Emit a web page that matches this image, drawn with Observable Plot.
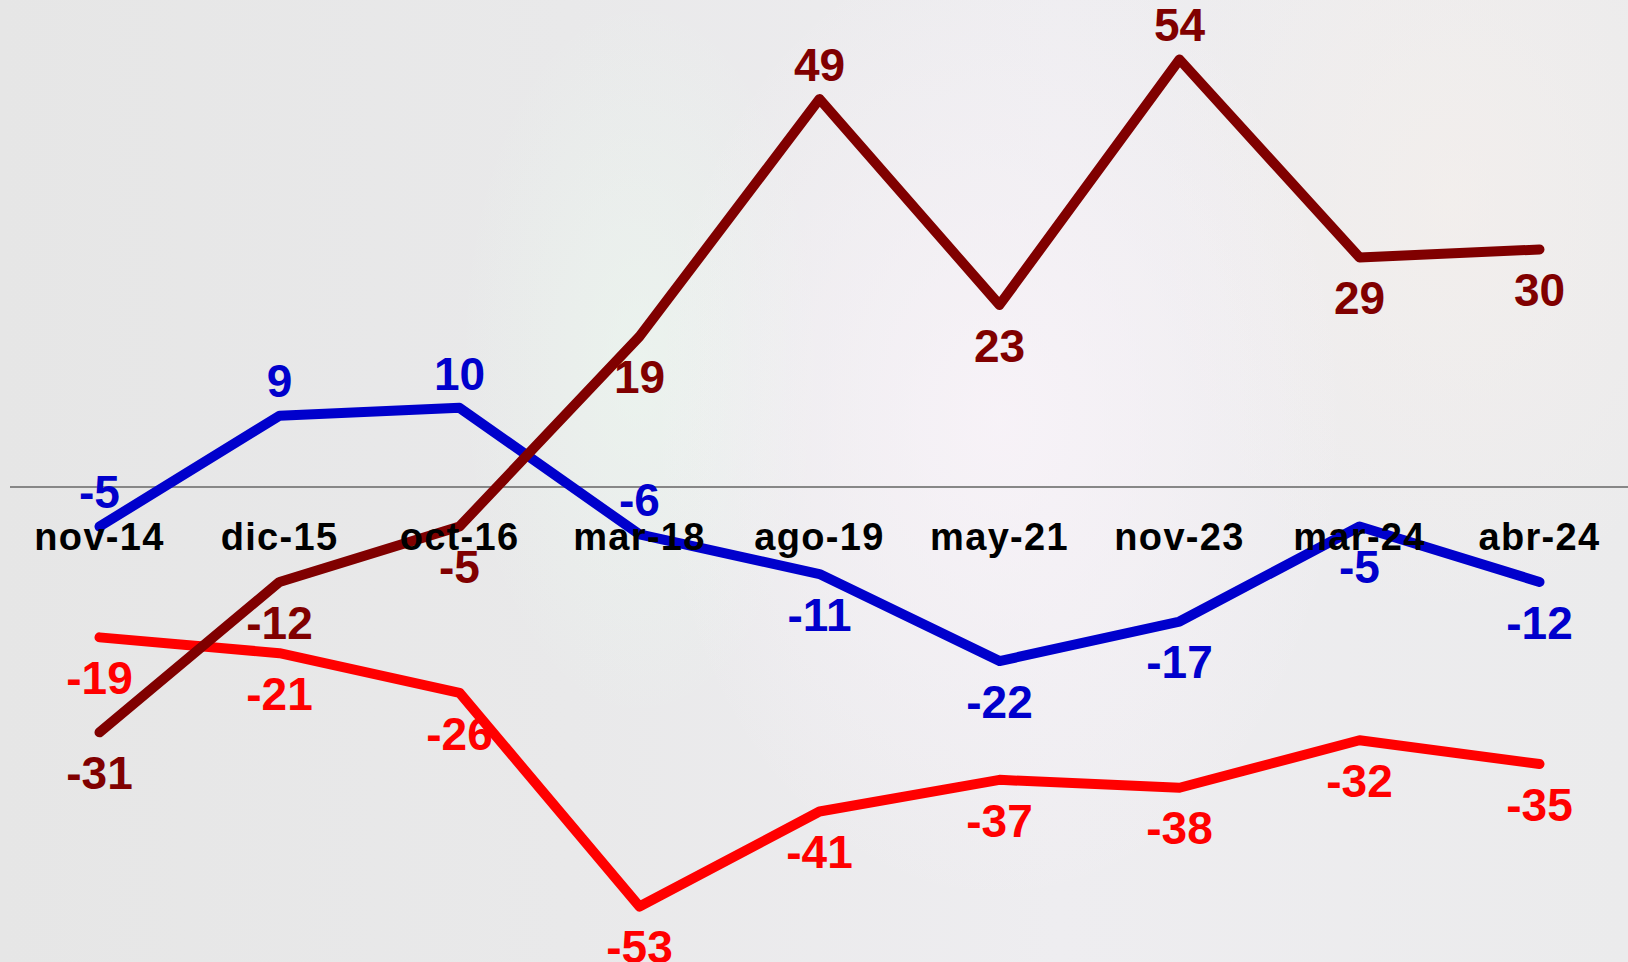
<!DOCTYPE html>
<html>
<head>
<meta charset="utf-8">
<script src="https://cdn.jsdelivr.net/npm/d3@7"></script>
<script src="https://cdn.jsdelivr.net/npm/@observablehq/plot@0.6"></script>
<style>
  html, body { margin: 0; padding: 0; }
  body {
    width: 1628px; height: 962px; overflow: hidden;
    background:
      radial-gradient(ellipse 500px 700px at 1000px 420px, rgba(250,244,250,0.75), rgba(250,244,250,0) 70%),
      radial-gradient(ellipse 260px 520px at 640px 360px, rgba(236,250,240,0.55), rgba(236,250,240,0) 70%),
      radial-gradient(ellipse 420px 600px at 1450px 200px, rgba(246,240,236,0.6), rgba(246,240,236,0) 70%),
      linear-gradient(90deg, #e6e6e6 0%, #e9e9ea 35%, #eeedf0 65%, #ebebec 100%);
    font-family: "Liberation Sans", Arial, sans-serif;
  }
  #chart svg { display: block; background: transparent; }
</style>
</head>
<body>
<div id="chart"></div>
<script>
const dates = ["nov-14", "dic-15", "oct-16", "mar-18", "ago-19", "may-21", "nov-23", "mar-24", "abr-24"];
const blueValues = [-5, 9, 10, -6, -11, -22, -17, -5, -12];
const darkRedValues = [-31, -12, -5, 19, 49, 23, 54, 29, 30];
const redValues = [-19, -21, -26, -53, -41, -37, -38, -32, -35];

// label placement (above the point or below it)
const blueAbove = [true, true, true, true, false, false, false, false, false];
const darkRedAbove = [false, false, false, false, true, false, true, false, false];
const redAbove = [false, false, false, false, false, false, false, false, false];

const seriesDefs = [
  {name: "red", color: "#ff0000", values: redValues, above: redAbove},
  {name: "blue", color: "#0000cc", values: blueValues, above: blueAbove},
  {name: "darkred", color: "#800000", values: darkRedValues, above: darkRedAbove}
];

const rows = seriesDefs.flatMap(s => dates.map((d, i) => ({
  date: d, value: s.values[i], series: s.name, color: s.color, above: s.above[i]
})));

const lineMarks = seriesDefs.map(s => Plot.line(rows.filter(r => r.series === s.name), {
  x: "date", y: "value", stroke: s.color, strokeWidth: 10,
  strokeLinecap: "round", strokeLinejoin: "round", curve: "linear"
}));

const labelFont = {fontFamily: "'Liberation Sans', Arial, sans-serif", fontWeight: "bold", fontSize: 46, lineAnchor: "middle"};

const chart = Plot.plot({
  width: 1628,
  height: 962,
  marginLeft: 99,
  marginRight: 89,
  marginTop: 59,
  marginBottom: 56,
  style: {background: "transparent", overflow: "visible"},
  x: {type: "point", domain: dates, padding: 0, axis: null},
  y: {domain: [-53, 54], axis: null},
  marks: [
    Plot.ruleY([0], {stroke: "#878787", strokeWidth: 2, insetLeft: -89, insetRight: -89}),
    ...lineMarks,
    Plot.text(dates, {
      x: d => d, y: () => 0, text: d => d, dy: 51,
      fontFamily: "'Liberation Sans', Arial, sans-serif", fontSize: 38, fontWeight: "bold",
      lineAnchor: "middle", fill: "#000"
    }),
    Plot.text(rows.filter(r => r.above), {
      x: "date", y: "value", text: d => String(d.value), fill: "color", dy: -33, ...labelFont
    }),
    Plot.text(rows.filter(r => !r.above), {
      x: "date", y: "value", text: d => String(d.value), fill: "color", dy: 42, ...labelFont
    })
  ]
});

// widen the category labels slightly, as in the reference
d3.select(chart).selectAll("text")
  .filter(function() { return dates.includes(this.textContent); })
  .attr("letter-spacing", "1.3px");

document.getElementById("chart").append(chart);
</script>
</body>
</html>
